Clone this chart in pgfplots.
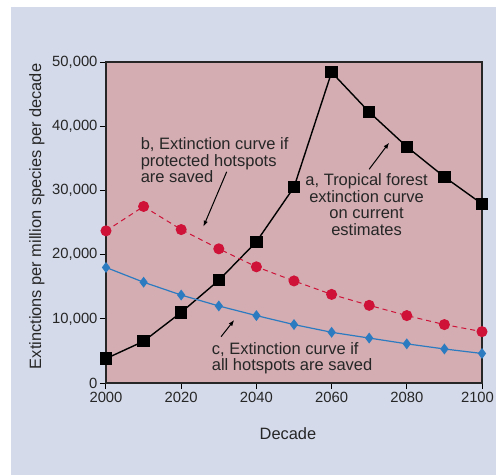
\documentclass[border=0pt]{standalone}
\usepackage{fontspec}
\setmainfont{Liberation Sans}
\usepackage{pgfplots}
\pgfplotsset{compat=1.18}
\usetikzlibrary{arrows.meta}
\definecolor{panel}{HTML}{D4DAEA}
\definecolor{plotbg}{HTML}{D3ADB2}
\definecolor{redc}{HTML}{CE1238}
\definecolor{bluec}{HTML}{2C7BC1}
\begin{document}
\begin{tikzpicture}
\fill[white] (-106bp,-92bp) rectangle (390bp,383bp);
\fill[panel] (-95bp,-92bp) rectangle (390bp,376bp);
\begin{axis}[
  at={(0,0)}, anchor=south west,
  scale only axis, width=376bp, height=321bp,
  xmin=2000, xmax=2100, ymin=0, ymax=50000,
  xtick={2000,2020,2040,2060,2080,2100},
  xticklabels={2000,2020,2040,2060,2080,{\hspace*{-9bp}2100}},
  ytick={0,10000,20000,30000,40000,50000},
  scaled y ticks=false,
  clip=false,
  axis background/.style={fill=plotbg},
  axis line style={line width=1.3bp, black!85},
  tick style={line width=1bp, black},
  major tick length=6bp,
  tick align=outside,
  xtick pos=bottom, ytick pos=left,
  /pgf/number format/assume math mode=true,
  ticklabel style={font=\fontsize{14.8bp}{17bp}\selectfont, text=black!85},
  yticklabel style={/pgf/number format/1000 sep={,}, xshift=1bp},
  xlabel={Decade},
  ylabel={Extinctions per million species per decade},
  label style={font=\fontsize{16.4bp}{18bp}\selectfont, text=black!85},
  xlabel style={at={(axis description cs:0.484,-0.159)}, anchor=center},
  ylabel style={at={(axis description cs:-0.184,0.519)}, anchor=center},
]
% a, tropical forest
\addplot[black, line width=1.4bp, mark=square*, mark size=5.5bp] coordinates {
  (2000,3800) (2010,6500) (2020,11000) (2030,16000) (2040,22000)
  (2050,30500) (2060,48400) (2070,42200) (2080,36800) (2090,32100) (2100,27900)
};
% b, protected hotspots saved
\addplot[redc, line width=1bp, dash pattern=on 5bp off 4bp, mark=*, mark size=5bp,
  mark options={solid}] coordinates {
  (2000,23700) (2010,27500) (2020,23900) (2030,20900) (2040,18100)
  (2050,15900) (2060,13800) (2070,12100) (2080,10500) (2090,9100) (2100,8000)
};
% c, all hotspots saved
\addplot[bluec, line width=1.2bp, mark=diamond*, mark size=4.5bp] coordinates {
  (2000,18000) (2010,15700) (2020,13700) (2030,12000) (2040,10500)
  (2050,9100) (2060,7900) (2070,7000) (2080,6100) (2090,5300) (2100,4600)
};
\tikzset{ann/.style={font=\fontsize{16.5bp}{16.5bp}\selectfont, text=black!85, inner sep=0pt}}
\node[ann, anchor=north west, align=left] at (axis cs:2009.2,38200)
  {b, Extinction curve if\\protected hotspots\\are saved};
\node[ann, anchor=north, align=center] at (axis cs:2069.3,32600)
  {a, Tropical forest\\extinction curve\\on current\\estimates};
\node[ann, anchor=north west, align=left] at (axis cs:2028.1,6340)
  {c, Extinction curve if\\all hotspots are saved};
\draw[black, line width=1bp, -{Latex[length=6bp,width=4.5bp]}]
  (axis cs:2032.1,32900) -- (axis cs:2025.9,24350);
\draw[black, line width=1bp, -{Latex[length=6bp,width=4.5bp]}]
  (axis cs:2070.0,33300) -- (axis cs:2075.3,37430);
\draw[black, line width=1bp, -{Latex[length=6bp,width=4.5bp]}]
  (axis cs:2030.6,7210) -- (axis cs:2034.1,9810);
\end{axis}
\pgfresetboundingbox
\useasboundingbox (-106bp,-92bp) rectangle (390bp,383bp);
\end{tikzpicture}
\end{document}
